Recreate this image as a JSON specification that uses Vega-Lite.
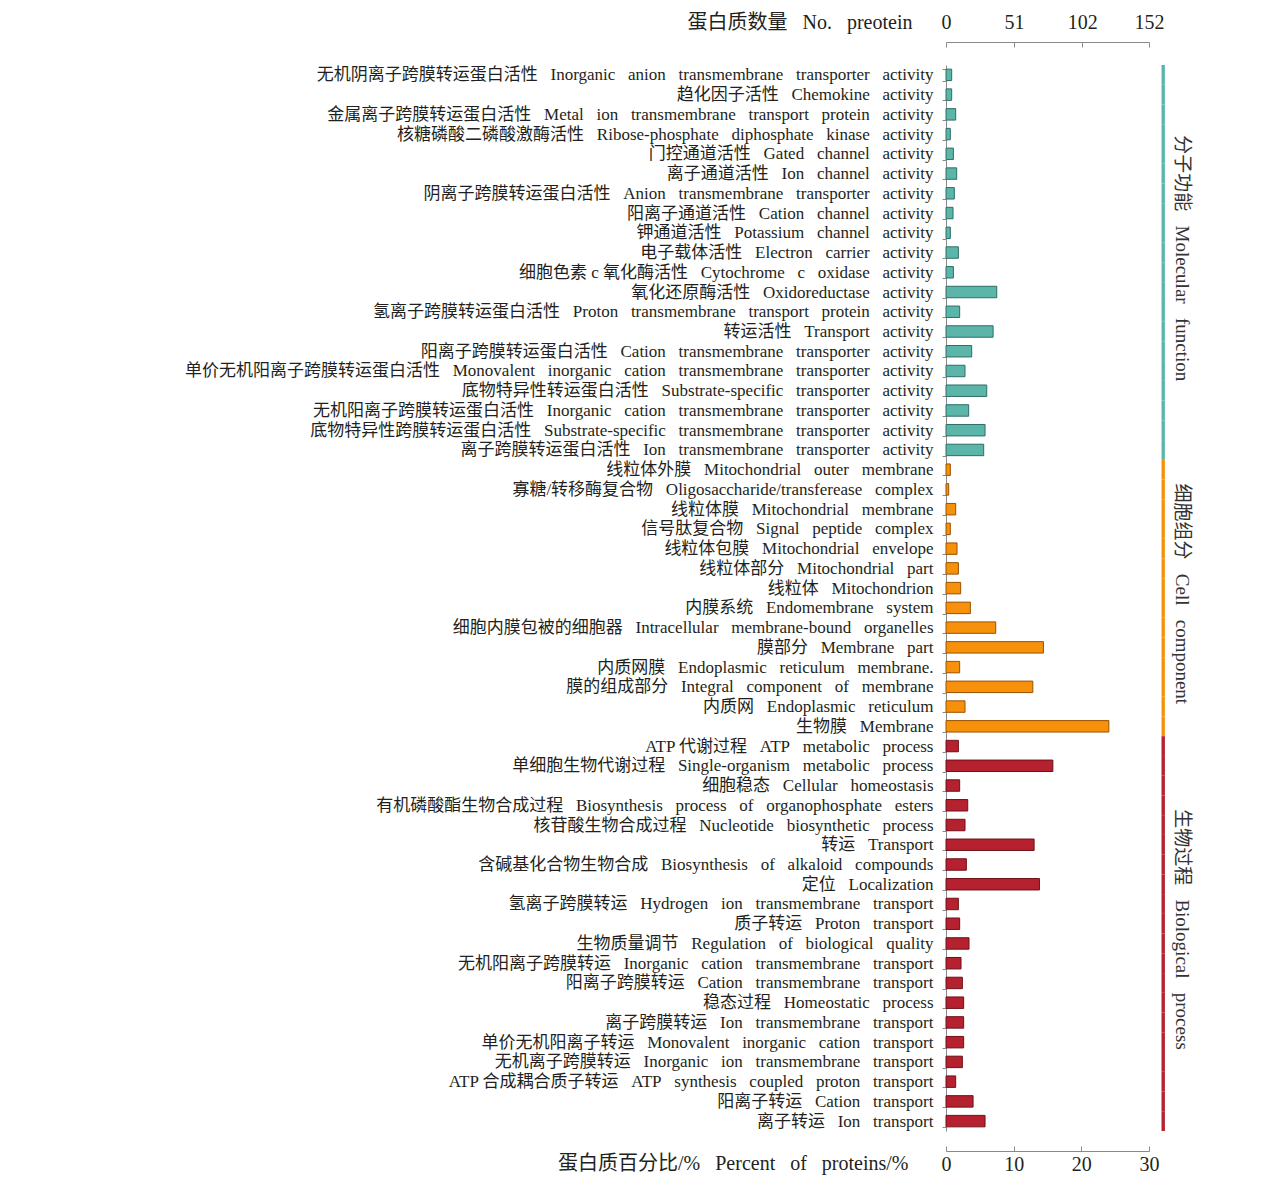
{
  "$schema": "https://vega.github.io/schema/vega-lite/v6.json",
  "width": 203,
  "height": 1066,
  "autosize": "none",
  "padding": {"left": 946, "top": 65, "right": 119, "bottom": 48},
  "config": {
    "view": {"stroke": null},
    "font": "Liberation Serif, Noto Sans CJK SC",
    "axis": {"domainColor": "#8a8a8a", "tickColor": "#8a8a8a", "labelColor": "#231f20", "titleColor": "#231f20", "titleFontWeight": "normal", "grid": false, "labelFont": "Liberation Serif, Noto Sans CJK SC", "titleFont": "Liberation Serif, Noto Sans CJK SC"}
  },
  "layer": [
    {
      "data": {
        "values": [
          {"term": "无机阴离子跨膜转运蛋白活性\u00a0 \u00a0Inorganic\u00a0 \u00a0anion\u00a0 \u00a0transmembrane\u00a0 \u00a0transporter\u00a0 \u00a0activity", "group": "MF", "pct": 0.84},
          {"term": "趋化因子活性\u00a0 \u00a0Chemokine\u00a0 \u00a0activity", "group": "MF", "pct": 0.84},
          {"term": "金属离子跨膜转运蛋白活性\u00a0 \u00a0Metal\u00a0 \u00a0ion\u00a0 \u00a0transmembrane\u00a0 \u00a0transport\u00a0 \u00a0protein\u00a0 \u00a0activity", "group": "MF", "pct": 1.43},
          {"term": "核糖磷酸二磷酸激酶活性\u00a0 \u00a0Ribose-phosphate\u00a0 \u00a0diphosphate\u00a0 \u00a0kinase\u00a0 \u00a0activity", "group": "MF", "pct": 0.64},
          {"term": "门控通道活性\u00a0 \u00a0Gated\u00a0 \u00a0channel\u00a0 \u00a0activity", "group": "MF", "pct": 1.09},
          {"term": "离子通道活性\u00a0 \u00a0Ion\u00a0 \u00a0channel\u00a0 \u00a0activity", "group": "MF", "pct": 1.58},
          {"term": "阴离子跨膜转运蛋白活性\u00a0 \u00a0Anion\u00a0 \u00a0transmembrane\u00a0 \u00a0transporter\u00a0 \u00a0activity", "group": "MF", "pct": 1.23},
          {"term": "阳离子通道活性\u00a0 \u00a0Cation\u00a0 \u00a0channel\u00a0 \u00a0activity", "group": "MF", "pct": 1.04},
          {"term": "钾通道活性\u00a0 \u00a0Potassium\u00a0 \u00a0channel\u00a0 \u00a0activity", "group": "MF", "pct": 0.64},
          {"term": "电子载体活性\u00a0 \u00a0Electron\u00a0 \u00a0carrier\u00a0 \u00a0activity", "group": "MF", "pct": 1.83, "glabel": "分子功能\u00a0 \u00a0Molecular\u00a0 \u00a0function"},
          {"term": "细胞色素 c 氧化酶活性\u00a0 \u00a0Cytochrome\u00a0 \u00a0c\u00a0 \u00a0oxidase\u00a0 \u00a0activity", "group": "MF", "pct": 1.09},
          {"term": "氧化还原酶活性\u00a0 \u00a0Oxidoreductase\u00a0 \u00a0activity", "group": "MF", "pct": 7.5},
          {"term": "氢离子跨膜转运蛋白活性\u00a0 \u00a0Proton\u00a0 \u00a0transmembrane\u00a0 \u00a0transport\u00a0 \u00a0protein\u00a0 \u00a0activity", "group": "MF", "pct": 2.02},
          {"term": "转运活性\u00a0 \u00a0Transport\u00a0 \u00a0activity", "group": "MF", "pct": 6.96},
          {"term": "阳离子跨膜转运蛋白活性\u00a0 \u00a0Cation\u00a0 \u00a0transmembrane\u00a0 \u00a0transporter\u00a0 \u00a0activity", "group": "MF", "pct": 3.8},
          {"term": "单价无机阳离子跨膜转运蛋白活性\u00a0 \u00a0Monovalent\u00a0 \u00a0inorganic\u00a0 \u00a0cation\u00a0 \u00a0transmembrane\u00a0 \u00a0transporter\u00a0 \u00a0activity", "group": "MF", "pct": 2.81},
          {"term": "底物特异性转运蛋白活性\u00a0 \u00a0Substrate-specific\u00a0 \u00a0transporter\u00a0 \u00a0activity", "group": "MF", "pct": 6.02},
          {"term": "无机阳离子跨膜转运蛋白活性\u00a0 \u00a0Inorganic\u00a0 \u00a0cation\u00a0 \u00a0transmembrane\u00a0 \u00a0transporter\u00a0 \u00a0activity", "group": "MF", "pct": 3.35},
          {"term": "底物特异性跨膜转运蛋白活性\u00a0 \u00a0Substrate-specific\u00a0 \u00a0transmembrane\u00a0 \u00a0transporter\u00a0 \u00a0activity", "group": "MF", "pct": 5.77},
          {"term": "离子跨膜转运蛋白活性\u00a0 \u00a0Ion\u00a0 \u00a0transmembrane\u00a0 \u00a0transporter\u00a0 \u00a0activity", "group": "MF", "pct": 5.57},
          {"term": "线粒体外膜\u00a0 \u00a0Mitochondrial\u00a0 \u00a0outer\u00a0 \u00a0membrane", "group": "CC", "pct": 0.64},
          {"term": "寡糖/转移酶复合物\u00a0 \u00a0Oligosaccharide/transferease\u00a0 \u00a0complex", "group": "CC", "pct": 0.4},
          {"term": "线粒体膜\u00a0 \u00a0Mitochondrial\u00a0 \u00a0membrane", "group": "CC", "pct": 1.43},
          {"term": "信号肽复合物\u00a0 \u00a0Signal\u00a0 \u00a0peptide\u00a0 \u00a0complex", "group": "CC", "pct": 0.64},
          {"term": "线粒体包膜\u00a0 \u00a0Mitochondrial\u00a0 \u00a0envelope", "group": "CC", "pct": 1.63},
          {"term": "线粒体部分\u00a0 \u00a0Mitochondrial\u00a0 \u00a0part", "group": "CC", "pct": 1.83},
          {"term": "线粒体\u00a0 \u00a0Mitochondrion", "group": "CC", "pct": 2.17, "glabel": "细胞组分\u00a0 \u00a0Cell\u00a0 \u00a0component"},
          {"term": "内膜系统\u00a0 \u00a0Endomembrane\u00a0 \u00a0system", "group": "CC", "pct": 3.6},
          {"term": "细胞内膜包被的细胞器\u00a0 \u00a0Intracellular\u00a0 \u00a0membrane-bound\u00a0 \u00a0organelles", "group": "CC", "pct": 7.35},
          {"term": "膜部分\u00a0 \u00a0Membrane\u00a0 \u00a0part", "group": "CC", "pct": 14.4},
          {"term": "内质网膜\u00a0 \u00a0Endoplasmic\u00a0 \u00a0reticulum\u00a0 \u00a0membrane.", "group": "CC", "pct": 2.02},
          {"term": "膜的组成部分\u00a0 \u00a0Integral\u00a0 \u00a0component\u00a0 \u00a0of\u00a0 \u00a0membrane", "group": "CC", "pct": 12.83},
          {"term": "内质网\u00a0 \u00a0Endoplasmic\u00a0 \u00a0reticulum", "group": "CC", "pct": 2.81},
          {"term": "生物膜\u00a0 \u00a0Membrane", "group": "CC", "pct": 24.07},
          {"term": "ATP 代谢过程\u00a0 \u00a0ATP\u00a0 \u00a0metabolic\u00a0 \u00a0process", "group": "BP", "pct": 1.83},
          {"term": "单细胞生物代谢过程\u00a0 \u00a0Single-organism\u00a0 \u00a0metabolic\u00a0 \u00a0process", "group": "BP", "pct": 15.79},
          {"term": "细胞稳态\u00a0 \u00a0Cellular\u00a0 \u00a0homeostasis", "group": "BP", "pct": 2.02},
          {"term": "有机磷酸酯生物合成过程\u00a0 \u00a0Biosynthesis\u00a0 \u00a0process\u00a0 \u00a0of\u00a0 \u00a0organophosphate\u00a0 \u00a0esters", "group": "BP", "pct": 3.21},
          {"term": "核苷酸生物合成过程\u00a0 \u00a0Nucleotide\u00a0 \u00a0biosynthetic\u00a0 \u00a0process", "group": "BP", "pct": 2.81},
          {"term": "转运\u00a0 \u00a0Transport", "group": "BP", "pct": 13.02},
          {"term": "含碱基化合物生物合成\u00a0 \u00a0Biosynthesis\u00a0 \u00a0of\u00a0 \u00a0alkaloid\u00a0 \u00a0compounds", "group": "BP", "pct": 3.01},
          {"term": "定位\u00a0 \u00a0Localization", "group": "BP", "pct": 13.81},
          {"term": "氢离子跨膜转运\u00a0 \u00a0Hydrogen\u00a0 \u00a0ion\u00a0 \u00a0transmembrane\u00a0 \u00a0transport", "group": "BP", "pct": 1.83},
          {"term": "质子转运\u00a0 \u00a0Proton\u00a0 \u00a0transport", "group": "BP", "pct": 2.02, "glabel": "生物过程\u00a0 \u00a0Biological\u00a0 \u00a0process"},
          {"term": "生物质量调节\u00a0 \u00a0Regulation\u00a0 \u00a0of\u00a0 \u00a0biological\u00a0 \u00a0quality", "group": "BP", "pct": 3.4},
          {"term": "无机阳离子跨膜转运\u00a0 \u00a0Inorganic\u00a0 \u00a0cation\u00a0 \u00a0transmembrane\u00a0 \u00a0transport", "group": "BP", "pct": 2.22},
          {"term": "阳离子跨膜转运\u00a0 \u00a0Cation\u00a0 \u00a0transmembrane\u00a0 \u00a0transport", "group": "BP", "pct": 2.42},
          {"term": "稳态过程\u00a0 \u00a0Homeostatic\u00a0 \u00a0process", "group": "BP", "pct": 2.61},
          {"term": "离子跨膜转运\u00a0 \u00a0Ion\u00a0 \u00a0transmembrane\u00a0 \u00a0transport", "group": "BP", "pct": 2.61},
          {"term": "单价无机阳离子转运\u00a0 \u00a0Monovalent\u00a0 \u00a0inorganic\u00a0 \u00a0cation\u00a0 \u00a0transport", "group": "BP", "pct": 2.61},
          {"term": "无机离子跨膜转运\u00a0 \u00a0Inorganic\u00a0 \u00a0ion\u00a0 \u00a0transmembrane\u00a0 \u00a0transport", "group": "BP", "pct": 2.42},
          {"term": "ATP 合成耦合质子转运\u00a0 \u00a0ATP\u00a0 \u00a0synthesis\u00a0 \u00a0coupled\u00a0 \u00a0proton\u00a0 \u00a0transport", "group": "BP", "pct": 1.43},
          {"term": "阳离子转运\u00a0 \u00a0Cation\u00a0 \u00a0transport", "group": "BP", "pct": 4.0},
          {"term": "离子转运\u00a0 \u00a0Ion\u00a0 \u00a0transport", "group": "BP", "pct": 5.77}
        ]
      },
      "encoding": {
        "y": {
          "field": "term",
          "type": "nominal",
          "sort": null,
          "scale": {"paddingInner": 0.42, "paddingOuter": 0.21},
          "axis": {"title": null, "tickBand": "extent", "tickSize": 4, "labelPadding": 9, "labelFontSize": 17, "labelLimit": 0}
        }
      },
      "layer": [
        {
          "mark": {"type": "bar", "strokeWidth": 1},
          "encoding": {
            "x": {
              "field": "pct",
              "type": "quantitative",
              "scale": {"domain": [0, 30], "nice": false},
              "axis": {
                "orient": "bottom", "offset": 20, "values": [0, 10, 20, 30], "tickSize": -5, "labelPadding": 8,
                "labelFontSize": 20, "labelFlush": false,
                "title": "蛋白质百分比/%\u00a0 \u00a0Percent\u00a0 \u00a0of\u00a0 \u00a0proteins/%", "titleFontSize": 20,
                "titleX": -38, "titleY": 12, "titleAlign": "right", "titleBaseline": "middle"
              }
            },
            "color": {"field": "group", "type": "nominal", "scale": {"domain": ["MF", "CC", "BP"], "range": ["#5bb5a9", "#f7900a", "#b5212f"]}, "legend": null},
            "stroke": {"field": "group", "type": "nominal", "scale": {"domain": ["MF", "CC", "BP"], "range": ["#2d6e66", "#9a5200", "#6e1018"]}, "legend": null}
          }
        },
        {
          "mark": {"type": "bar", "height": {"band": 1.724}, "strokeWidth": 0},
          "encoding": {
            "x": {"datum": 31.85, "type": "quantitative"},
            "x2": {"datum": 32.35},
            "color": {"field": "group", "type": "nominal"}
          }
        },
        {
          "mark": {"type": "text", "angle": 90, "fontSize": 19, "color": "#333333", "align": "center", "baseline": "middle"},
          "encoding": {
            "x": {"datum": 34.9, "type": "quantitative"},
            "y": {"field": "term", "type": "nominal", "sort": null, "bandPosition": 1},
            "text": {"condition": {"test": "isValid(datum.glabel)", "field": "glabel"}, "value": ""}
          }
        }
      ]
    },
    {
      "data": {"values": [{"n": 0}, {"n": 152}]},
      "mark": {"type": "point", "opacity": 0},
      "encoding": {
        "x": {
          "field": "n",
          "type": "quantitative",
          "scale": {"domain": [0, 152], "nice": false},
          "axis": {
            "orient": "top", "offset": 23, "values": [0, 51, 102, 152], "tickSize": -5, "labelPadding": 15,
            "labelFontSize": 20, "labelFlush": false,
            "title": "蛋白质数量\u00a0 \u00a0No.\u00a0 \u00a0preotein", "titleFontSize": 20,
            "titleX": -34, "titleY": -20, "titleAlign": "right", "titleBaseline": "middle"
          }
        }
      }
    }
  ],
  "resolve": {"scale": {"x": "independent"}, "axis": {"x": "independent"}}
}
